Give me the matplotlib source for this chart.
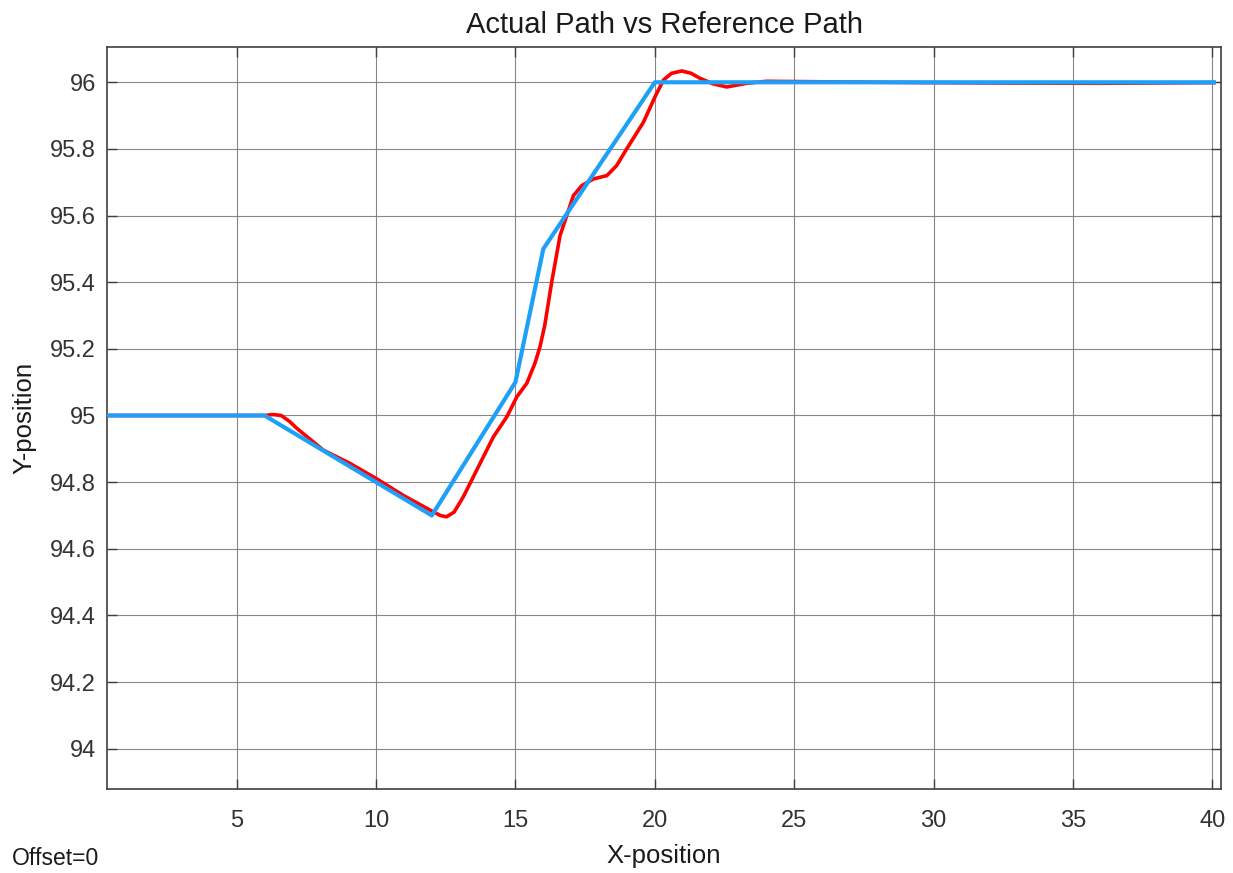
#
#   Plot actual vehicle path against the commanded reference path
#
#   Saves the figure as out.png in the working directory.
#

import matplotlib.pyplot as plt
import numpy as np

plt.rcParams['font.family'] = ['Liberation Sans', 'DejaVu Sans']

#   Reference path waypoints

x_ref = [0.35, 6.0, 12.0, 15.0, 16.0, 20.0, 40.05]
y_ref = [95.0, 95.0, 94.7, 95.1, 95.5, 96.0, 96.0]

#   Actual (tracked) path

x_act = [0.35, 6.0, 6.3, 6.6, 6.9, 7.15, 8.11, 9.07, 10.02, 10.98, 11.94,
         12.3, 12.53, 12.8, 13.13, 13.73, 14.21, 14.69, 15.05, 15.41,
         15.70, 15.88, 16.05, 16.3, 16.6, 16.84, 17.08, 17.38, 17.8, 18.28,
         18.63, 18.99, 19.59, 20.01, 20.31, 20.6, 20.97, 21.3, 21.62, 22.1,
         22.58, 23.3, 24.0, 28.0, 32.0, 36.0, 40.05]
y_act = [95.0, 95.0, 95.003, 95.0, 94.982, 94.962, 94.896, 94.856, 94.81,
         94.76, 94.716, 94.70, 94.696, 94.71, 94.756, 94.856, 94.936,
         94.996, 95.056, 95.097, 95.157, 95.206, 95.27, 95.40, 95.54, 95.60,
         95.66, 95.69, 95.71, 95.72, 95.75, 95.80, 95.88, 95.957, 96.007,
         96.027, 96.034, 96.027, 96.012, 95.995, 95.986, 95.997, 96.003,
         96.0, 95.998, 95.997, 95.999]

x_ticks = [5, 10, 15, 20, 25, 30, 35, 40]
y_ticks = [94, 94.2, 94.4, 94.6, 94.8, 95, 95.2, 95.4, 95.6, 95.8, 96]
y_tick_labels = ['94', '94.2', '94.4', '94.6', '94.8', '95',
                 '95.2', '95.4', '95.6', '95.8', '96']


def render(outfile='out.png'):

    f = plt.figure(figsize=(12.33, 8.73), dpi=100)
    ax = f.add_axes([0.0868, 0.0962, 0.9035, 0.85])

    ax.plot(x_act, y_act, color='#ff0000', linewidth=2.6, zorder=3,
            solid_joinstyle='round')
    ax.plot(x_ref, y_ref, color='#1fa0f8', linewidth=3.0, zorder=4)

    ax.set_xlim(0.35, 40.31)
    ax.set_ylim(93.879, 96.106)

    ax.set_xticks(x_ticks)
    ax.set_yticks(y_ticks)
    ax.set_yticklabels(y_tick_labels)

    # Scope-style grid and ticks

    ax.grid(True, color='#7a7a7a', linewidth=0.8, alpha=0.9)
    ax.tick_params(direction='in', length=7, width=1.0, color='#404040',
                   top=True, right=True, labelsize=17, labelcolor='#333333')
    ax.tick_params(axis='x', pad=15)
    ax.tick_params(axis='y', pad=8)

    for s in ax.spines.values():
        s.set_color('#404040')
        s.set_linewidth(1.2)

    ax.set_title('Actual Path vs Reference Path', fontsize=21, pad=10,
                 color='#1a1a1a')
    ax.set_xlabel('X-position', fontsize=18.5, labelpad=9, color='#1a1a1a')
    ax.set_ylabel('Y-position', fontsize=18.5, labelpad=10, color='#1a1a1a')

    f.text(0.01, 0.004, 'Offset=0', fontsize=16.5, color='#1a1a1a',
           ha='left', va='bottom')

    f.savefig(outfile, dpi=100)


if __name__ == '__main__':

    render()
